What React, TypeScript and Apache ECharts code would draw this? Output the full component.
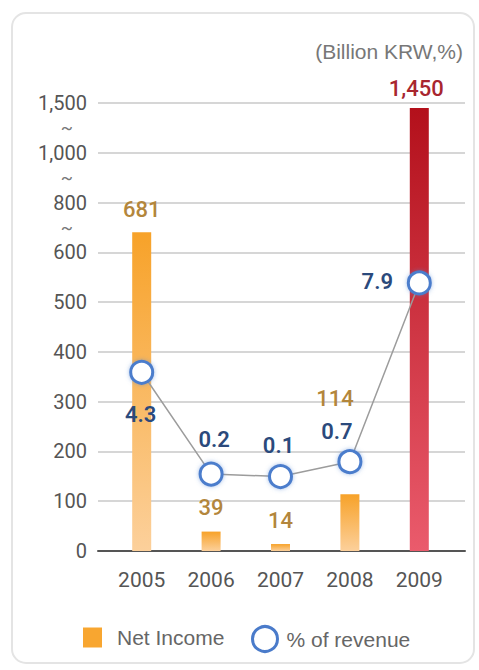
import React, { useEffect, useRef } from 'react';
import * as echarts from 'echarts';

const categories = ['2005', '2006', '2007', '2008', '2009'];
const netIncome = [681, 39, 14, 114, 1450];
const revenuePct = [4.3, 0.2, 0.1, 0.7, 7.9];
const yTickValues = [0, 100, 200, 300, 400, 500, 600, 800, 1000, 1500];
const yTickLabels = ['0', '100', '200', '300', '400', '500', '600', '800', '1,000', '1,500'];
const breakMarks = [6.5, 7.5, 8.5];

// piecewise-linear broken scale: each tick value sits one step apart
function toBroken(v: number): number {
  for (let i = 1; i < yTickValues.length; i++) {
    if (v <= yTickValues[i]) {
      const a = yTickValues[i - 1];
      const b = yTickValues[i];
      return i - 1 + (v - a) / (b - a);
    }
  }
  return yTickValues.length - 1;
}

const barLabelCfg = [
  { distance: 12, offset: [0, 0] },
  { distance: 13, offset: [0, 0] },
  { distance: 13, offset: [0, 0] },
  { distance: 85, offset: [-15, 0] },
  { distance: 8, offset: [-3, 0], color: '#a8262f' },
];
const lineLabelOffsets = [
  [-1, 42],
  [3, -35],
  [-2, -31],
  [-13, -30],
  [-42, -1],
];

export default function App() {
  const ref = useRef<HTMLDivElement>(null);
  useEffect(() => {
    const chart = echarts.init(ref.current!, null, { renderer: 'svg' });
    const orange = new echarts.graphic.LinearGradient(0, 0, 0, 1, [
      { offset: 0, color: '#f7a229' },
      { offset: 1, color: '#fcd09b' },
    ]);
    const red = new echarts.graphic.LinearGradient(0, 0, 0, 1, [
      { offset: 0, color: '#b3101b' },
      { offset: 1, color: '#ea5b6c' },
    ]);
    const numFont = 'Roboto';
    const option: any = {
      animation: false,
      backgroundColor: '#ffffff',
      title: {
        text: '(Billion KRW,%)',
        right: 16,
        top: 41,
        padding: 0,
        textStyle: { fontSize: 21, color: '#777', fontWeight: 'normal', fontFamily: 'Liberation Sans' },
      },
      graphic: [
        {
          type: 'rect',
          silent: true,
          shape: { x: 12, y: 13, width: 462, height: 650, r: 14 },
          style: { fill: 'none', stroke: '#e4e4e4', lineWidth: 2 },
        },
      ],
      legend: [
        {
          data: [{ name: 'Net Income', icon: 'rect', itemStyle: { color: '#f8a630' } }],
          left: 83,
          top: 627,
          padding: 0,
          itemWidth: 19,
          itemHeight: 20,
          selectedMode: false,
          textStyle: { fontSize: 21, color: '#666', fontFamily: 'Liberation Sans', padding: [0, 0, 0, 10] },
        },
        {
          data: [
            {
              name: '% of revenue',
              icon: 'circle',
              itemStyle: { color: '#ffffff', borderColor: '#4a7bca', borderWidth: 3 },
            },
          ],
          left: 251,
          top: 625,
          padding: 0,
          itemWidth: 25,
          itemHeight: 25,
          selectedMode: false,
          textStyle: { fontSize: 21, color: '#666', fontFamily: 'Liberation Sans', padding: [0, 0, 0, 4] },
        },
      ],
      grid: [
        { left: 98, right: 14, top: 103, height: 448 },
        { left: 107, width: 347, top: 103, height: 448 },
      ],
      xAxis: [
        {
          gridIndex: 0,
          type: 'category',
          data: categories,
          axisLine: { show: true, lineStyle: { color: '#555', width: 2 } },
          axisTick: { show: false },
          axisLabel: { show: false },
          splitLine: { show: false },
        },
        {
          gridIndex: 1,
          type: 'category',
          data: categories,
          axisLine: { show: false },
          axisTick: { show: false },
          axisLabel: { fontSize: 21, color: '#555', margin: 18, fontFamily: numFont },
        },
      ],
      yAxis: [
        {
          gridIndex: 0,
          type: 'value',
          min: 0,
          max: yTickValues.length - 1,
          interval: 1,
          axisLine: { show: false },
          axisTick: { show: false },
          axisLabel: {
            formatter: (v: number) => yTickLabels[Math.round(v)] ?? '',
            fontSize: 20,
            color: '#555',
            margin: 11,
            fontFamily: numFont,
          },
          splitLine: { lineStyle: { color: '#d6d6d6', width: 2 } },
        },
        {
          gridIndex: 0,
          type: 'value',
          position: 'left',
          min: 0,
          max: yTickValues.length - 1,
          interval: 0.5,
          axisLine: { show: false },
          axisTick: { show: false },
          splitLine: { show: false },
          axisLabel: {
            formatter: (v: number) => (breakMarks.indexOf(v) >= 0 ? '~' : ''),
            fontSize: 18,
            color: '#777',
            margin: 25,
            fontFamily: numFont,
          },
        },
        { gridIndex: 1, type: 'value', min: 0, max: yTickValues.length - 1, show: false },
        { gridIndex: 1, type: 'value', min: -2.9, max: 15.15, show: false },
      ],
      series: [
        {
          name: 'Net Income',
          type: 'bar',
          xAxisIndex: 1,
          yAxisIndex: 2,
          barWidth: 19,
          itemStyle: { color: orange },
          label: {
            show: true,
            position: 'top',
            color: '#b3863c',
            fontSize: 22,
            fontWeight: 500,
            fontFamily: numFont,
            formatter: (p: any) => netIncome[p.dataIndex].toLocaleString('en-US'),
          },
          data: netIncome.map((v, i) => ({
            value: toBroken(v),
            itemStyle: i === 4 ? { color: red } : undefined,
            label: barLabelCfg[i],
          })),
        },
        {
          name: '% of revenue',
          type: 'line',
          xAxisIndex: 1,
          yAxisIndex: 3,
          z: 5,
          symbol: 'circle',
          symbolSize: 22,
          lineStyle: { color: '#9c9c9c', width: 1.5 },
          itemStyle: {
            color: '#ffffff',
            borderColor: '#4b7dcc',
            borderWidth: 3,
            shadowBlur: 4,
            shadowColor: 'rgba(80,130,210,0.5)',
          },
          label: {
            show: true,
            position: 'inside',
            color: '#2b4a7c',
            fontSize: 22,
            fontWeight: 600,
            fontFamily: numFont,
          },
          data: revenuePct.map((v, i) => ({ value: v, label: { offset: lineLabelOffsets[i] } })),
        },
      ],
    };
    chart.setOption(option);
    return () => chart.dispose();
  }, []);
  return (
    <div
      ref={ref}
      style={{ position: 'fixed', left: 0, top: 0, width: 479, height: 670, background: '#fff' }}
    />
  );
}
